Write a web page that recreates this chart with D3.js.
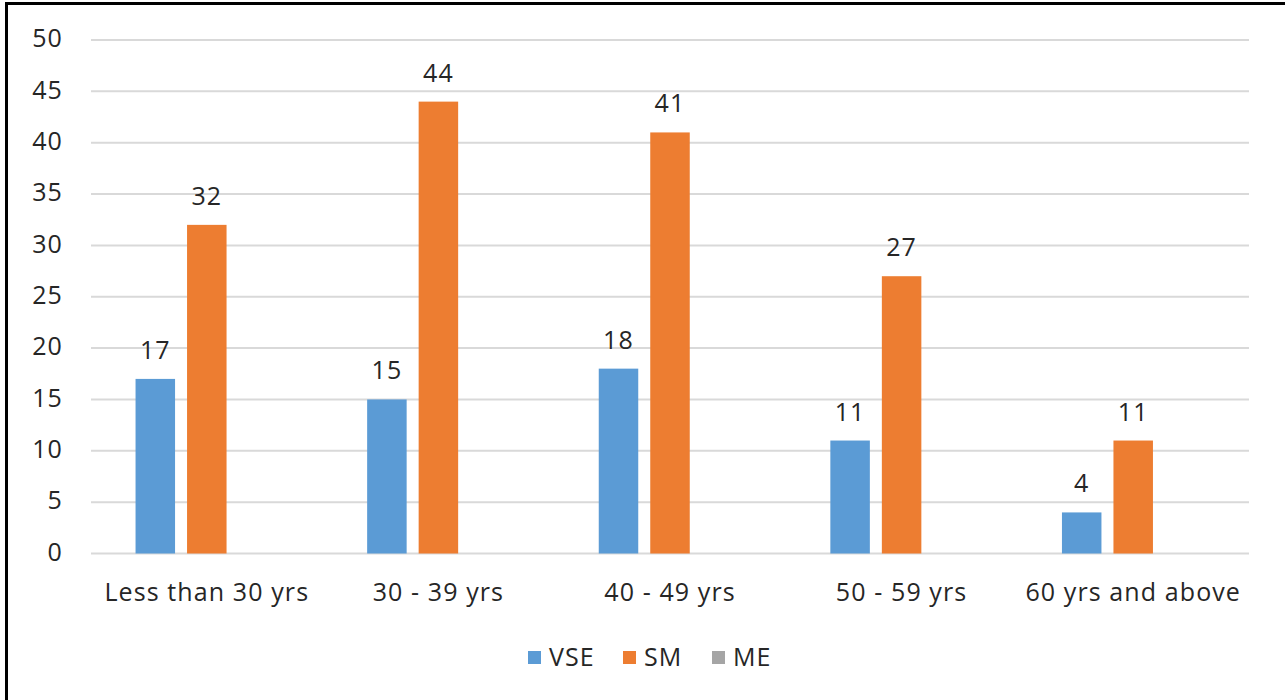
<!DOCTYPE html>
<html><head><meta charset="utf-8">
<script src="https://cdn.jsdelivr.net/npm/d3@7"></script>
<style>body{margin:0;background:#fff}svg text{font-family:"Open Sans",sans-serif;fill:#262626;letter-spacing:1.1px}</style>
</head><body>
<script>
const categories = ["Less than 30 yrs","30 - 39 yrs","40 - 49 yrs","50 - 59 yrs","60 yrs and above"];
const seriesNames = ["VSE","SM","ME"];
const vse = [17,15,18,11,4];
const sm = [32,44,41,27,11];
const me = [null,null,null,null,null];
const yTicks = [0,5,10,15,20,25,30,35,40,45,50];
const colors = ["#5b9bd5","#ed7d31","#a5a5a5"];

const W=1285,H=700,FS=25;
const svg=d3.select("body").append("svg").attr("width",W).attr("height",H);
svg.append("rect").attr("width",W).attr("height",H).attr("fill","#fff");
// frame
svg.append("line").attr("x1",5).attr("x2",W).attr("y1",3.5).attr("y2",3.5).attr("stroke","#000").attr("stroke-width",3);
svg.append("line").attr("x1",6.5).attr("x2",6.5).attr("y1",2).attr("y2",H).attr("stroke","#000").attr("stroke-width",3);

const x0=d3.scaleBand().domain(categories).range([91,1249]).paddingInner(0).paddingOuter(0);
const y=d3.scaleLinear().domain([0,50]).range([553.5,40]);
const x1=d3.scaleBand().domain(seriesNames).range([0,x0.bandwidth()]).paddingInner(0.233).paddingOuter(0.865);

// grid
svg.append("g").selectAll("line").data(yTicks).join("line")
 .attr("x1",91).attr("x2",1249).attr("y1",d=>y(d)).attr("y2",d=>y(d))
 .attr("stroke","#d9d9d9").attr("stroke-width",2);
// y labels
const yAxis=d3.axisLeft(y).tickValues(yTicks).tickSize(0).tickPadding(0);
const ga=svg.append("g").attr("transform","translate(63,0)").call(yAxis);
ga.select(".domain").remove();
ga.selectAll("text").attr("font-size",FS).attr("font-family","Open Sans").attr("fill","#262626").attr("dy","0.27em");

const data=[vse,sm,me];
seriesNames.forEach((s,si)=>{
  const g=svg.append("g");
  const vals=categories.map((c,i)=>({c,v:data[si][i]})).filter(d=>d.v!=null);
  g.selectAll("rect").data(vals).join("rect")
   .attr("x",d=>x0(d.c)+x1(s)).attr("width",x1.bandwidth())
   .attr("y",d=>y(d.v)).attr("height",d=>y(0)-y(d.v)).attr("fill",colors[si]);
  g.selectAll("text").data(vals).join("text")
   .attr("x",d=>x0(d.c)+x1(s)+x1.bandwidth()/2).attr("y",d=>y(d.v)-20)
   .attr("text-anchor","middle").attr("font-size",FS).text(d=>d.v);
});
// x labels
const xa=svg.append("g").attr("transform","translate(0,553.5)").call(d3.axisBottom(x0).tickSize(0).tickPadding(0));
xa.select(".domain").remove();
xa.selectAll("text").attr("font-size",FS).attr("font-family","Open Sans").attr("fill","#262626").attr("dy",0).attr("y",47);

// legend
const legX=[528,623,712];
const lg=svg.append("g");
seriesNames.forEach((s,i)=>{
  lg.append("rect").attr("x",legX[i]).attr("y",651).attr("width",13).attr("height",13).attr("fill",colors[i]);
  lg.append("text").attr("x",legX[i]+21).attr("y",666).attr("font-size",FS).text(s);
});
</script>
</body></html>
